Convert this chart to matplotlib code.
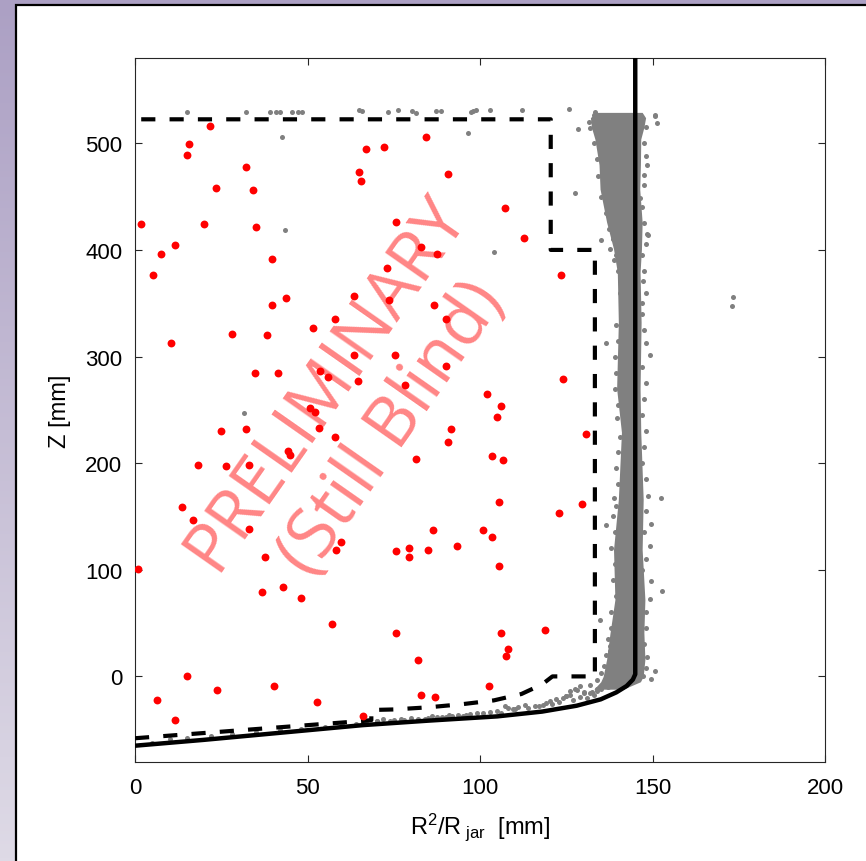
import matplotlib
matplotlib.use('Agg')
import matplotlib.pyplot as plt
import numpy as np
from matplotlib.patches import Rectangle

plt.rcParams['font.family'] = ['Liberation Sans', 'DejaVu Sans']
plt.rcParams['mathtext.fontset'] = 'custom'
plt.rcParams['mathtext.rm'] = 'Liberation Sans'
plt.rcParams['mathtext.it'] = 'Liberation Sans:italic'

# fiducial boundary (dashed) and wall contour (solid)
fid_x = [0, 66, 68.5, 68.5, 75, 85, 95, 104, 112, 118, 121, 133.3, 133.3, 120.5, 120.5, 0]
fid_z = [-58, -41.8, -41, -31.5, -31, -29, -26, -22.5, -16.5, -7.5, 0, 0, 400, 400, 522.5, 522.5]
wall_x = [0, 20, 40, 66, 85, 105, 118, 128, 135, 139.5, 142.5, 144.3, 145, 145]
wall_z = [-65, -59.5, -53.5, -45.7, -41.5, -37.5, -33, -27.5, -21.5, -15, -9, -3, 2, 600]

# dense wall-event band (edges)
core_z = [-12, -5, 0, 16, 41, 72, 119, 166, 229, 270, 332, 379, 401, 426, 457, 480, 504, 515, 524, 529]
core_left = [133.0, 135.0, 135.7, 136.7, 137.7, 139.1, 138.7, 140.1, 141.0, 139.6, 140.1, 139.8,
             138.7, 136.7, 134.8, 134.5, 133.3, 132.3, 132.0, 133.5]
core_right = [141.5, 146.5, 147.3, 147.8, 147.5, 147.8, 147.0, 147.3, 146.6, 146.4, 146.7, 146.4,
              146.8, 147.0, 146.3, 146.5, 146.6, 147.5, 148.0, 147.0]

# ragged edge of the band
edge_x = [131.5, 133, 134, 135.5, 135, 136.5, 137.5, 138.5, 139.5, 140, 140.5, 141, 139.5, 140, 139,
          139.5, 139, 140, 141.5, 140.5, 140, 139.5, 140, 139.5, 138.5, 139, 138, 139, 138.5, 139.5,
          138, 138, 137, 136.5, 136, 135, 134, 132, 129, 126,
          148, 147.5, 148, 147.5, 147, 147.5, 147, 147.5, 148, 147, 147.5, 147, 148, 147.5, 147,
          148, 147.5, 147, 148, 148, 147.5, 148, 147, 148, 148, 147.5, 148.5, 148]
edge_z = [520, 500, 485, 470, 450, 435, 420, 410, 395, 380, 360, 345, 330, 315, 300, 285, 270, 255,
          240, 225, 210, 195, 180, 160, 150, 135, 120, 105, 90, 75, 60, 45, 35, 20, 10, 3, -3, -8,
          -9, -14,
          515, 500, 488, 470, 440, 425, 395, 380, 360, 340, 325, 290, 275, 260, 245, 230, 215, 200,
          185, 155, 135, 110, 100, 60, 45, 30, 18, 8]

# scattered gray events
gray_x = [15.2, 32.2, 39.2, 40.9, 42.0, 45.6, 47.2, 48.3, 64.8, 65.7, 73.3, 76.2, 80.2, 81.4, 42.6,
          43.4, 87.2, 88.8, 97.3, 98.1, 98.8, 102.8, 112.1, 125.8, 133.2, 96.6, 128.3, 127.6, 104.1,
          135.2, 136.4, 31.6, 139.6, 138.7, 136.4, 134.7, 152.6, 173.2, 173.1, 148.3, 150.7, 149.4,
          148.5, 147.5, 146.4, 148.6, 148.2, 147.3, 146.9, 148.2, 137.7, 138.7, 134.3, 150.7, 151.2,
          132.9, 131.9, 149.7, 149.2, 149.7, 152.8, 149.2, 150.7, 137.7, 136.2, 127.5, 130.0, 132.4,
          124.8, 148.8, 149.7, 147.3, 137.7, 133.8, 131.9, 128.0, 125.0, 120.3, 118.4, 116.0, 111.0,
          109.6, 107.2, 72, 75, 78, 80, 82, 87.5, 92, 93.7, 99, 101, 105, 108, 113, 122, 126, 130,
          134, 136, 138, 140, 5, 10, 15, 22, 28, 35, 42, 48, 55, 60, 64, 67, 70, 85, 90, 96,
          70, 74, 77, 84, 86, 89, 91, 95, 97, 103, 106, 110, 114, 117, 119, 121, 123, 124, 127, 129,
          131, 133, 135, 137, 139, 141]
gray_z = [529.6, 529.7, 529.5, 529.5, 529.3, 529.8, 529.5, 529.8, 531, 530, 529.5, 531, 530, 528.3,
          506.2, 419, 530.2, 530.2, 529.3, 530.5, 531, 530.8, 531, 531.8, 529.2, 509.3, 513.7, 453,
          397.8, 409, 312.5, 247.5, 242.8, 167.4, 141.8, 52.8, 166.9, 355.6, 347.8, 479.6, 527, 301.5,
          414.6, 460.9, 449, 414, 406, 370.9, 350.6, 313, 400.6, 391, 469, 525.6, 519.4, 527, 514.7,
          142.8, 122.4, 89.6, 80.3, 72.5, 5.3, 28.7, -5.6, -11.9, -15, -15, -18.2, 169.3, -2.5, 0.6,
          24, -13.5, -16, -12.8, -18, -22.9, -27, -27.5, -29, -30.7, -28, -40, -41, -40.5, -39, -40,
          -38, -37, -36, -34, -34.5, -32, -30, -27, -21, -17, -16, -12, -8, -5, -2, -62.5, -58.5,
          -57.5, -55.5, -54, -52, -50.5, -49, -47, -45.5, -44.5, -43.5, -42, -39, -38.5, -36,
          -42, -41.5, -39.5, -39.5, -37.5, -38, -36, -37, -35, -33, -34, -31, -30, -28, -25, -26,
          -24, -20, -22, -19, -20, -17, -12, -10, -6, -3]

# candidate events (red)
red_x = [21.7, 15.7, 15.2, 32.2, 23.4, 34.2, 1.8, 19.9, 35.2, 7.4, 11.6, 5.3, 39.8, 10.4, 28.0,
         38.2, 39.8, 43.9, 51.5, 57.9, 63.5, 73.5, 73.1, 82.9, 75.7, 84.4, 67.0, 72.2, 64.9, 65.5,
         63.5, 75.3, 34.7, 41.4, 53.7, 55.9, 64.6, 78.3, 50.7, 52.2, 53.2, 57.9, 24.9, 32.2, 44.4,
         45.0, 18.3, 26.5, 33.1, 81.4, 13.6, 16.7, 33.1, 37.8, 59.8, 58.3, 75.7, 79.4, 79.4, 84.8,
         0.8, 36.8, 42.9, 48.0, 57.2, 75.7, 81.9, 90.7, 107.2, 112.8, 87.6, 123.6, 86.6, 90.1, 90.1,
         124.1, 101.9, 106.1, 105.0, 91.7, 90.7, 130.7, 103.5, 106.7, 105.5, 123.0, 129.7, 86.5,
         100.9, 103.5, 93.2, 105.5, 106.0, 118.9, 108.2, 107.6, 6.5, 11.6, 15.2, 23.9, 40.3, 52.8,
         66.2, 83.0, 87.0, 102.5]
red_z = [515.9, 499.7, 489.4, 477.7, 457.8, 456.2, 424.7, 424.7, 421.5, 396.2, 404.6, 376.5, 391.5,
         313.1, 321.6, 320.0, 348.1, 354.7, 326.5, 335.0, 356.5, 353.1, 383.1, 403.1, 426.2, 506.2,
         494.6, 496.2, 472.8, 464.6, 301.5, 301.5, 285.0, 285.0, 286.9, 280.9, 276.6, 273.4, 251.5,
         248.1, 233.4, 225.0, 230.0, 231.8, 211.5, 208.1, 198.4, 196.9, 198.4, 203.7, 158.7, 146.8,
         138.4, 111.8, 125.6, 118.4, 117.2, 120.3, 111.8, 118.7, 100.3, 79.0, 83.7, 73.7, 48.7, 40.3,
         15.6, 470.9, 439.3, 411.2, 396.2, 376.5, 348.4, 335.0, 291.2, 278.7, 264.9, 253.4, 243.4,
         231.8, 220.3, 226.9, 206.8, 203.4, 163.4, 153.4, 161.8, 136.9, 136.9, 130.3, 121.9, 103.7,
         40.3, 43.7, 25.6, 18.7, -22.5, -40.7, 0.6, -12.6, -9.4, -24.1, -37.2, -17.5, -19.4, -9.4]

W, H = 866, 862
fig = plt.figure(figsize=(W / 100, H / 100), dpi=100)

# slide background
bg = fig.add_axes([0, 0, 1, 1])
top_c = np.array([172, 160, 196]) / 255
bot_c = np.array([222, 218, 230]) / 255
t = np.linspace(0, 1, 256)[:, None, None]
grad = top_c * (1 - t) + bot_c * t
bg.imshow(grad, aspect='auto', extent=[0, 1, 0, 1])
bg.set_axis_off()
fig.add_artist(Rectangle((16 / W, -0.01), 1.0, (H - 6) / H + 0.01, transform=fig.transFigure,
                         facecolor='white', edgecolor='black', lw=1.6, zorder=1))

ax = fig.add_axes([135 / W, 1 - 762.7 / H, 690 / W, (762.7 - 59) / H], zorder=2)

ax.fill_betweenx(core_z, core_left, core_right, color='#808080', lw=0, zorder=1)
ax.scatter(edge_x, edge_z, s=13, color='#808080', lw=0, zorder=2)
ax.scatter(gray_x, gray_z, s=13, color='#808080', lw=0, zorder=2)
ax.plot(fid_x, fid_z, color='black', lw=3, ls=(0, (3.4, 3.4)), zorder=3)
ax.plot(wall_x, wall_z, color='black', lw=3.2, zorder=3, solid_capstyle='butt')
ax.scatter(red_x, red_z, s=32, color='red', lw=0, zorder=4)

ax.text(65, 254, 'PRELIMINARY\n(Still Blind)', rotation=55, ha='center', va='center',
        multialignment='center', fontsize=50, color='red', alpha=0.48,
        family=['Open Sans', 'DejaVu Sans'], zorder=5)

ax.set_xlim(0, 200)
ax.set_ylim(-80, 580)
ax.set_xticks([0, 50, 100, 150, 200])
ax.set_yticks([0, 100, 200, 300, 400, 500])
ax.tick_params(direction='in', length=5, width=0.8, color='#262626', labelsize=16,
               top=True, right=True)
ax.tick_params(axis='x', pad=11)
ax.tick_params(axis='y', pad=9)
for s in ax.spines.values():
    s.set_linewidth(0.8)
    s.set_color('#262626')
ax.set_xlabel(r'R$^2$/R$_{\ \mathrm{jar}}$  [mm]', fontsize=17, labelpad=9)
ax.set_ylabel('Z [mm]', fontsize=17, labelpad=10)

fig.savefig('out.png', dpi=100)
